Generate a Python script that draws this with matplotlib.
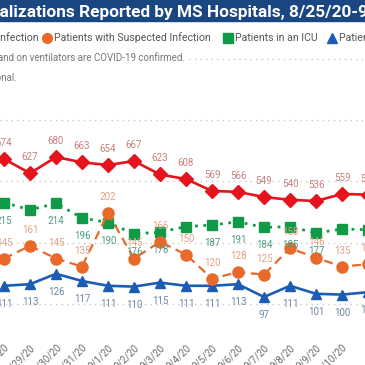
import matplotlib.pyplot as plt
from matplotlib.patches import Rectangle

# values (8/28/20 .. 9/11/20, last point sits just past the crop)
dates = ['8/28/20', '8/29/20', '8/30/20', '8/31/20', '9/1/20', '9/2/20', '9/3/20', '9/4/20',
         '9/5/20', '9/6/20', '9/7/20', '9/8/20', '9/9/20', '9/10/20', '9/11/20', '9/12/20']
confirmed = [674, 627, 680, 663, 654, 667, 623, 608, 569, 566, 549, 540, 536, 559, 557]
suspected = [145, 161, 145, 135, 202, 145, 166, 150, 120, 128, 125, 158, 146, 135, 138]
icu = [215, 206, 214, 196, 190, 176, 178, 185, 187, 191, 184, 185, 177, 182, 181]
ventilator = [111, 113, 126, 117, 111, 110, 115, 111, 111, 113, 97, 111, 101, 100, 103]
icu_hidden = [1, 7, 13, 14]  # labels the report dropped because of overlap

W = 365.0
plt.rcParams['font.family'] = ['Roboto', 'DejaVu Sans']

fig = plt.figure(figsize=(3.65, 3.65), dpi=100)
fig.patch.set_facecolor('white')

def px(x, y):
    return x / W, 1 - y / W

# plot area in pixel rows: top 45, bottom 332
ax = fig.add_axes([0, 1 - 332 / W, 1, (332 - 45) / W])
ax2 = ax.twinx()
for a in (ax, ax2):
    for s in a.spines.values():
        s.set_visible(False)
    a.tick_params(left=False, right=False, labelleft=False, labelright=False, bottom=False)
ax.set_ylim(106.6, 1047.5)
ax2.set_ylim(53.25, 412)
ax.set_yticks([200, 400, 600, 800, 1000])
ax.yaxis.grid(True, color='#c8c8c8', linestyle=(0, (1, 3)), linewidth=1)
ax.set_axisbelow(True)

ax.set_xticks(range(len(dates)))
ax.set_xticklabels(dates, rotation=45, ha='right', rotation_mode='anchor',
                   fontsize=7, color='#6b6b6b')
ax.tick_params(axis='x', pad=4)
ax.set_xlim(-4 / 26, (W - 4) / 26)

x = range(len(confirmed))
ax.plot(x, confirmed, color='#e5131c', lw=1.9, marker='D', ms=7.5, zorder=3)
ax2.plot(x, icu, color='#109a48', lw=2, ls=(0, (1, 2)), marker='s', ms=6.5, zorder=3)
ax2.plot(x, ventilator, color='#1b5db5', lw=1.9, marker='^', ms=7.5, zorder=3)
ax2.plot(x, suspected, color='#e8692a', lw=1.6, ls=(0, (4, 2.5)), marker='o', ms=8, zorder=4)
ax.set_xlim(-4 / 26, (W - 4) / 26)

def labels(a, vals, dy, color, skip=()):
    for i, v in enumerate(vals):
        if i in skip:
            continue
        a.annotate(str(v), (i, v), xytext=(0, dy), textcoords='offset pixels',
                   ha='center', va='center', fontsize=7, color=color,
                   annotation_clip=False, zorder=5)

labels(ax, confirmed, 16, '#c77f7f')
labels(ax2, suspected, 16, '#e2a184')
labels(ax2, icu, -18, '#4e9e83', icu_hidden)
labels(ax2, ventilator, -18, '#6f86a6')

# title banner
fig.patches.append(Rectangle((0, 1 - 21 / W), 1, 21 / W, transform=fig.transFigure,
                             color='#1a4781', zorder=0))
fig.canvas.draw()
r = fig.canvas.get_renderer()
title = 'COVID-19 Hospitalizations Reported by MS Hospitals, 8/25/20-9/14/20'
tprops = dict(fontsize=12.4, fontweight='bold', color='white', va='baseline')
tmp = fig.text(0, 0, 'COVID-19 Hospitalizations Reported by MS Hospitals, 8/25/20-', **tprops)
w = tmp.get_window_extent(r).width
tmp.remove()
fig.text(*px(358 - w, 16.5), title, **tprops)

# legend row
lg = dict(fontsize=7.6, color='#555555', va='center')
fig.text(*px(39, 38), 'Patients with Confirmed Infection', ha='left', **lg).set_ha('right')
fig.lines.append(plt.Line2D([47 / W], [1 - 38 / W], marker='o', ms=7, color='#e8692a',
                            transform=fig.transFigure))
fig.text(*px(54, 38), 'Patients with Suspected Infection', ha='left', **lg)
fig.lines.append(plt.Line2D([228 / W], [1 - 38 / W], marker='s', ms=6.5, color='#109a48',
                            transform=fig.transFigure))
fig.text(*px(235, 38), 'Patients in an ICU', ha='left', **lg)
fig.lines.append(plt.Line2D([332 / W], [1 - 38 / W], marker='^', ms=7, color='#1b5db5',
                            transform=fig.transFigure))
fig.text(*px(339, 38), 'Patients on Ventilators', ha='left', **lg)

# notes
note = dict(fontsize=7, color='#777777', va='center', ha='right',
            bbox=dict(facecolor='white', edgecolor='none', pad=1))
fig.text(*px(185, 58), 'Patients in an ICU and on ventilators are COVID-19 confirmed.', **note)
fig.text(*px(17, 78), 'Data are provisional.', **note)

fig.savefig('out.png', dpi=100)
